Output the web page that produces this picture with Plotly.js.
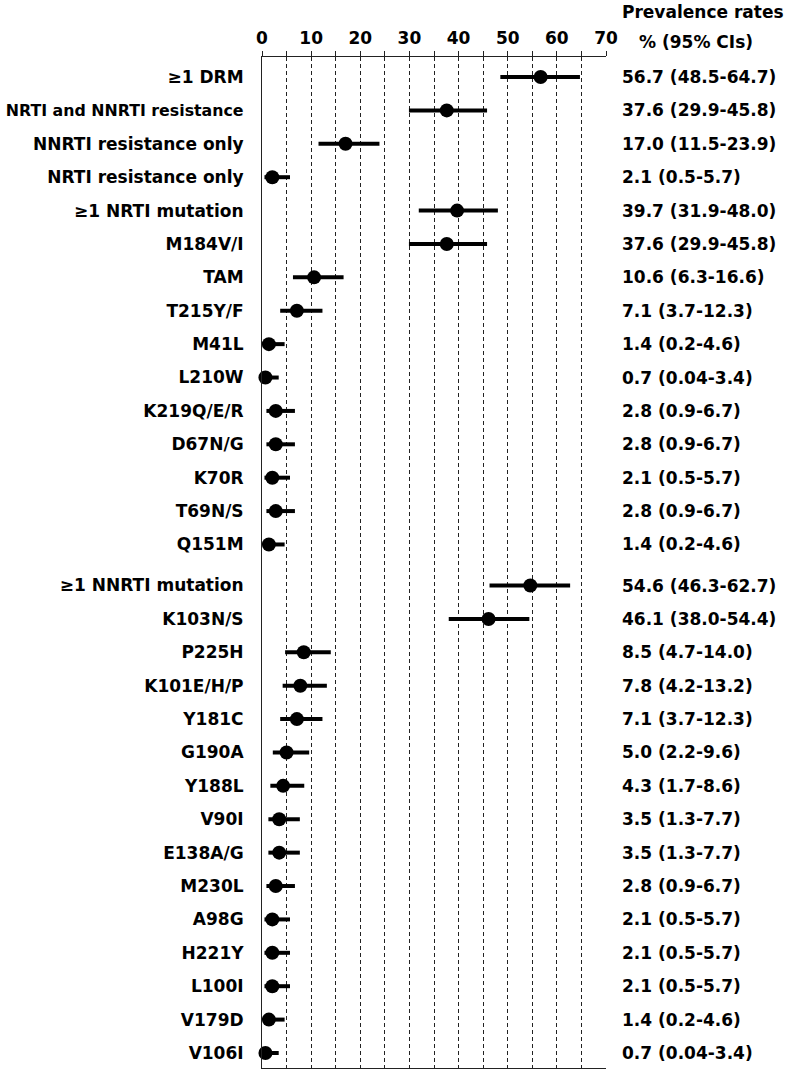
<!DOCTYPE html>
<html>
<head>
<meta charset="utf-8">
<script src="https://cdn.plot.ly/plotly-3.0.1.min.js"></script>
<style>html,body{margin:0;padding:0;background:#fff;}#chart{width:787px;height:1069px;}</style>
</head>
<body>
<div id="chart"></div>
<script>
// ---- data ----
const labels = [
  "≥1 DRM", "NRTI and NNRTI resistance", "NNRTI resistance only", "NRTI resistance only",
  "≥1 NRTI mutation", "M184V/I", "TAM", "T215Y/F", "M41L", "L210W", "K219Q/E/R",
  "D67N/G", "K70R", "T69N/S", "Q151M",
  "≥1 NNRTI mutation", "K103N/S", "P225H", "K101E/H/P", "Y181C", "G190A", "Y188L",
  "V90I", "E138A/G", "M230L", "A98G", "H221Y", "L100I", "V179D", "V106I"
];
const estimates = [56.7, 37.6, 17.0, 2.1, 39.7, 37.6, 10.6, 7.1, 1.4, 0.7, 2.8, 2.8, 2.1, 2.8, 1.4,
  54.6, 46.1, 8.5, 7.8, 7.1, 5.0, 4.3, 3.5, 3.5, 2.8, 2.1, 2.1, 2.1, 1.4, 0.7];
const lower = [48.5, 29.9, 11.5, 0.5, 31.9, 29.9, 6.3, 3.7, 0.2, 0.04, 0.9, 0.9, 0.5, 0.9, 0.2,
  46.3, 38.0, 4.7, 4.2, 3.7, 2.2, 1.7, 1.3, 1.3, 0.9, 0.5, 0.5, 0.5, 0.2, 0.04];
const upper = [64.7, 45.8, 23.9, 5.7, 48.0, 45.8, 16.6, 12.3, 4.6, 3.4, 6.7, 6.7, 5.7, 6.7, 4.6,
  62.7, 54.4, 14.0, 13.2, 12.3, 9.6, 8.6, 7.7, 7.7, 6.7, 5.7, 5.7, 5.7, 4.6, 3.4];
const rateText = ["56.7 (48.5-64.7)", "37.6 (29.9-45.8)", "17.0 (11.5-23.9)", "2.1 (0.5-5.7)",
  "39.7 (31.9-48.0)", "37.6 (29.9-45.8)", "10.6 (6.3-16.6)", "7.1 (3.7-12.3)", "1.4 (0.2-4.6)",
  "0.7 (0.04-3.4)", "2.8 (0.9-6.7)", "2.8 (0.9-6.7)", "2.1 (0.5-5.7)", "2.8 (0.9-6.7)", "1.4 (0.2-4.6)",
  "54.6 (46.3-62.7)", "46.1 (38.0-54.4)", "8.5 (4.7-14.0)", "7.8 (4.2-13.2)", "7.1 (3.7-12.3)",
  "5.0 (2.2-9.6)", "4.3 (1.7-8.6)", "3.5 (1.3-7.7)", "3.5 (1.3-7.7)", "2.8 (0.9-6.7)",
  "2.1 (0.5-5.7)", "2.1 (0.5-5.7)", "2.1 (0.5-5.7)", "1.4 (0.2-4.6)", "0.7 (0.04-3.4)"];
const group = [0,0,0,0,0,0,0,0,0,0,0,0,0,0,0, 1,1,1,1,1,1,1,1,1,1,1,1,1,1,1];
const xTicks = [0, 10, 20, 30, 40, 50, 60, 70];

// ---- layout helpers ----
const groupGap = 0.23;
const ypos = labels.map((_, i) => i + group[i] * groupGap);
const FONT = "DejaVu Sans, Verdana, sans-serif";
const txtFont = { family: FONT, size: 17, color: "#000", weight: "bold" };
// long label slightly smaller so it fits inside the page
const tickLabels = labels.map(l => l.length > 22 ? '<span style="font-size:15.8px">' + l + '</span>' : l);

const trace = {
  type: "scatter",
  mode: "markers",
  x: estimates,
  y: ypos,
  marker: { color: "#000", size: 14, symbol: "circle" },
  error_x: {
    type: "data",
    symmetric: false,
    array: estimates.map((e, i) => upper[i] - e),
    arrayminus: estimates.map((e, i) => e - lower[i]),
    color: "#000",
    thickness: 4,
    width: 0
  },
  cliponaxis: false,
  hoverinfo: "skip",
  showlegend: false
};

const annotations = rateText.map((t, i) => ({
  xref: "paper", yref: "y", x: 1, y: ypos[i], xshift: 14,
  xanchor: "left", yanchor: "middle", showarrow: false, text: t,
  font: txtFont
}));
annotations.push({
  xref: "paper", yref: "paper", x: 1, xshift: 14, y: 1, yshift: 57,
  xanchor: "left", yanchor: "top", showarrow: false, text: "Prevalence rates",
  font: txtFont
});
annotations.push({
  xref: "paper", yref: "paper", x: 1, xshift: 31, y: 1, yshift: 27,
  xanchor: "left", yanchor: "top", showarrow: false, text: "% (95% CIs)",
  font: txtFont
});

const last = ypos[ypos.length - 1];
const gridDash = "4px,3px";
const layout = {
  width: 787, height: 1069,
  margin: { l: 262, r: 181, t: 57, b: 1, pad: 0 },
  paper_bgcolor: "#fff", plot_bgcolor: "#fff",
  font: txtFont,
  xaxis: {
    side: "top", range: [0, 70], tickvals: xTicks, ticktext: xTicks.map(String),
    ticks: "outside", ticklen: 5, tickcolor: "#222", tickwidth: 1,
    showline: true, linecolor: "#222", linewidth: 1, mirror: true,
    showgrid: true, gridcolor: "#222", griddash: gridDash, gridwidth: 1,
    minor: { dtick: 5, tick0: 0, showgrid: true, gridcolor: "#222", griddash: gridDash, gridwidth: 1, ticks: "outside", ticklen: 5, tickcolor: "#222" },
    zeroline: false, fixedrange: true,
    tickfont: txtFont
  },
  yaxis: {
    range: [last + 0.45, -0.6], tickvals: ypos, ticktext: tickLabels,
    ticks: "", showline: true, linecolor: "#222", linewidth: 1,
    showgrid: false, zeroline: false, ticklabelstandoff: 14,
    tickfont: txtFont
  },
  annotations: annotations
};

Plotly.newPlot("chart", [trace], layout, { staticPlot: true, displayModeBar: false });
</script>
</body>
</html>
